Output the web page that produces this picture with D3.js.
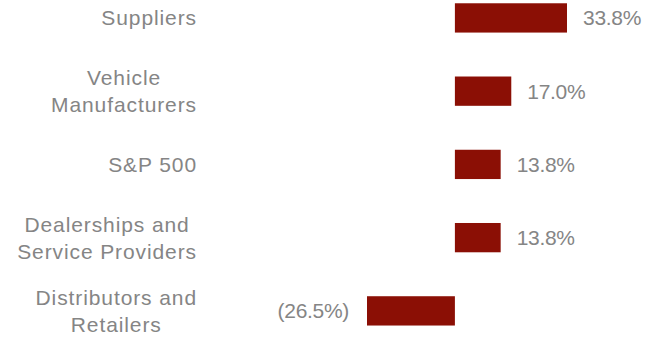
<!DOCTYPE html>
<html>
<head>
<meta charset="utf-8">
<script src="https://cdn.jsdelivr.net/npm/d3@7"></script>
<style>
  body { margin: 0; background: #fff; }
</style>
</head>
<body>
<div id="output"></div>
<script>
const categories = [
    ["Suppliers"],
    ["Vehicle", "Manufacturers"],
    ["S&P 500"],
    ["Dealerships and", "Service Providers"],
    ["Distributors and", "Retailers"]
];
const values = [33.8, 17.0, 13.8, 13.8, -26.5];
const valueLabels = ["33.8%", "17.0%", "13.8%", "13.8%", "(26.5%)"];

const barColor = "#8b0f05";
const textColor = "#858585";
const fontFamily = "'Liberation Sans', Arial, sans-serif";

function draw() {
    const w = 654;
    const h = 339;
    const svg = d3.select("#output").append("svg").attr("width", w).attr("height", h);

    const names = categories.map(c => c.join(" "));
    const y = d3.scaleBand()
        .domain(names)
        .range([-18.7, 347.5])
        .paddingInner(0.6)
        .paddingOuter(0.3);

    const x = d3.scaleLinear()
        .domain(d3.extent(values))
        .range([367, 567]);

    const labelRight = 197;
    const lineGap = 13.5;

    // category labels, lines centred on each other, block right aligned
    categories.forEach((lines, i) => {
        const cy = y(names[i]) + y.bandwidth() / 2;
        const g = svg.append("g");
        const texts = lines.map((line, j) => g.append("text")
            .style("fill", textColor)
            .style("font-family", fontFamily)
            .style("font-size", "21px")
            .style("letter-spacing", "0.9px")
            .style("text-anchor", "middle")
            .attr("y", cy + (j - (lines.length - 1) / 2) * 2 * lineGap)
            .attr("dy", "0.36em")
            .text(line));
        const maxW = d3.max(texts, t => t.node().getComputedTextLength());
        texts.forEach(t => t.attr("x", labelRight - maxW / 2));
    });

    svg.append("g").selectAll("rect")
        .data(values)
        .join("rect")
        .attr("x", d => x(Math.min(0, d)))
        .attr("width", d => Math.abs(x(d) - x(0)))
        .attr("y", (d, i) => y(names[i]))
        .attr("height", y.bandwidth())
        .style("fill", barColor);

    svg.append("g").selectAll("text")
        .data(values)
        .join("text")
        .attr("x", d => d >= 0 ? x(d) + 16 : x(d) - 18)
        .attr("y", (d, i) => y(names[i]) + y.bandwidth() / 2)
        .attr("dy", "0.36em")
        .style("text-anchor", d => d >= 0 ? "start" : "end")
        .style("fill", textColor)
        .style("font-family", fontFamily)
        .style("font-size", "21px")
        .style("letter-spacing", "-0.3px")
        .text((d, i) => valueLabels[i]);
}

draw();
</script>
</body>
</html>
